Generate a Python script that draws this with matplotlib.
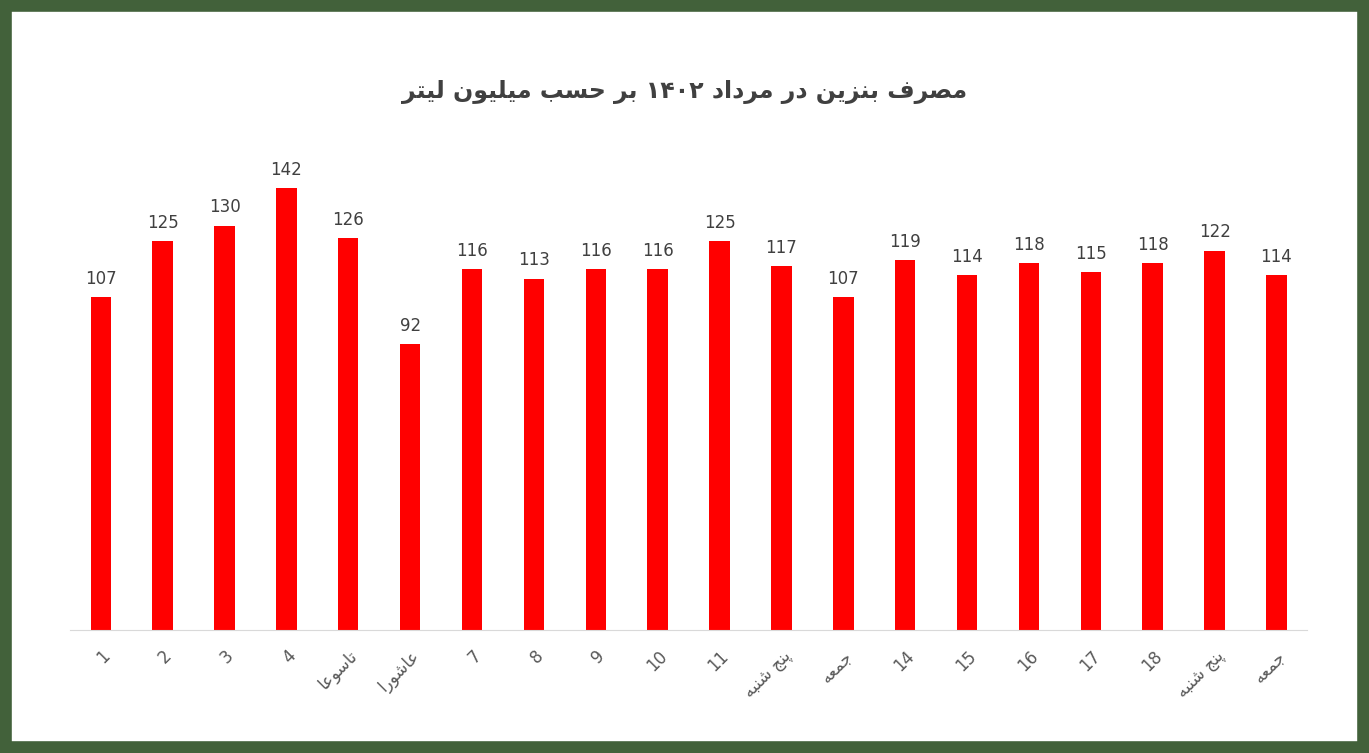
import matplotlib
matplotlib.use("Agg")
import matplotlib.pyplot as plt
from matplotlib.patches import Rectangle

labels = ["1", "2", "3", "4", "تاسوعا", "عاشورا", "7", "8", "9", "10", "11",
          "پنج شنبه", "جمعه", "14", "15", "16", "17", "18", "پنج شنبه", "جمعه"]
values = [107, 125, 130, 142, 126, 92, 116, 113, 116, 116, 125, 117, 107,
          119, 114, 118, 115, 118, 122, 114]
title = "مصرف بنزین در مرداد ۱۴۰۲ بر حسب میلیون لیتر"

# minimal Arabic/Persian shaping: (isolated, final, initial, medial)
F = {
 'ا': (0xFE8D, 0xFE8E, None, None), 'د': (0xFEA9, 0xFEAA, None, None),
 'ر': (0xFEAD, 0xFEAE, None, None), 'ز': (0xFEAF, 0xFEB0, None, None),
 'و': (0xFEED, 0xFEEE, None, None),
 'ب': (0xFE8F, 0xFE90, 0xFE91, 0xFE92), 'ت': (0xFE95, 0xFE96, 0xFE97, 0xFE98),
 'ج': (0xFE9D, 0xFE9E, 0xFE9F, 0xFEA0), 'ح': (0xFEA1, 0xFEA2, 0xFEA3, 0xFEA4),
 'س': (0xFEB1, 0xFEB2, 0xFEB3, 0xFEB4), 'ش': (0xFEB5, 0xFEB6, 0xFEB7, 0xFEB8),
 'ص': (0xFEB9, 0xFEBA, 0xFEBB, 0xFEBC), 'ع': (0xFEC9, 0xFECA, 0xFECB, 0xFECC),
 'ف': (0xFED1, 0xFED2, 0xFED3, 0xFED4), 'ل': (0xFEDD, 0xFEDE, 0xFEDF, 0xFEE0),
 'م': (0xFEE1, 0xFEE2, 0xFEE3, 0xFEE4), 'ن': (0xFEE5, 0xFEE6, 0xFEE7, 0xFEE8),
 'ه': (0xFEE9, 0xFEEA, 0xFEEB, 0xFEEC), 'ی': (0xFBFC, 0xFBFD, 0xFBFE, 0xFBFF),
 'پ': (0xFB56, 0xFB57, 0xFB58, 0xFB59),
}

def shape(s):
    out = []
    for i, c in enumerate(s):
        if c not in F:
            out.append(c); continue
        prev = s[i-1] if i > 0 else ''
        nxt = s[i+1] if i + 1 < len(s) else ''
        jp = prev in F and F[prev][2] is not None
        jn = nxt in F and F[c][2] is not None
        iso, fin, ini, med = F[c]
        if jp and jn: g = med
        elif jp: g = fin
        elif jn: g = ini
        else: g = iso
        out.append(chr(g))
    return ''.join(out)[::-1]

def fix(s):
    if any(c in F for c in s):
        # reverse word order handled by full reverse; keep digit runs in LTR order
        r = shape(s)
        import re
        return re.sub(r'[۰-۹0-9]+', lambda m: m.group(0)[::-1], r)
    return s

plt.rcParams['font.family'] = ['DejaVu Sans']
fig = plt.figure(figsize=(13.69, 7.53), dpi=100)
fig.patches.append(Rectangle((0, 0), 1, 1, transform=fig.transFigure, fill=False,
                             edgecolor='#42613a', linewidth=17))
ax = fig.add_axes([0.051, 0.163, 0.904, 0.62])
x = list(range(len(values)))
bars = ax.bar(x, values, width=0.33, color='#ff0000')
for xi, v in zip(x, values):
    ax.text(xi, v + 3, str(v), ha='center', va='bottom', fontsize=12, color='#404040')
ax.set_xlim(-0.5, len(values) - 0.5)
ax.set_ylim(0, 150)
ax.set_yticks([])
ax.set_xticks(x)
ax.set_xticklabels([fix(l) for l in labels], rotation=45, ha='right',
                   rotation_mode='anchor', fontsize=12, color='#595959')
ax.tick_params(axis='x', length=0, pad=12)
for s in ['top', 'right', 'left']:
    ax.spines[s].set_visible(False)
ax.spines['bottom'].set_color('#d9d9d9')
fig.text(0.5, 0.878, fix(title), ha='center', va='center', fontsize=17,
         fontweight='bold', color='#404040')
fig.savefig('out.png', dpi=100)
